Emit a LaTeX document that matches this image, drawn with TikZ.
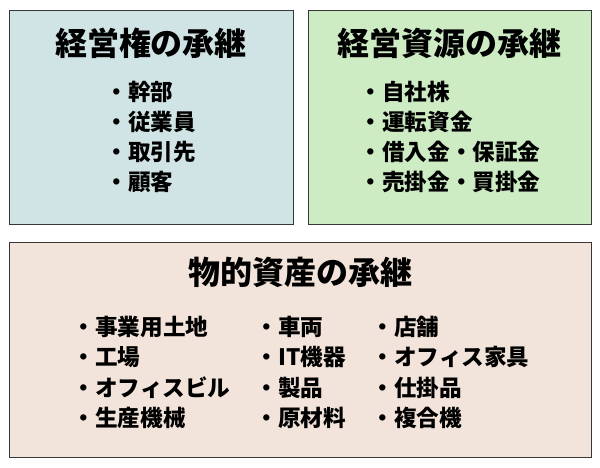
\documentclass[tikz,border=0pt]{standalone}
\usepackage{fontspec}
\setmainfont{Noto Sans CJK JP}
\definecolor{boxblue}{RGB}{209,228,229}
\definecolor{boxgreen}{RGB}{205,236,196}
\definecolor{boxpeach}{RGB}{242,228,218}
\definecolor{edge}{RGB}{55,55,55}
\begin{document}
\begin{tikzpicture}[x=1pt,y=-1pt,
  panel/.style={draw=edge, line width=1.3pt, anchor=north west, inner sep=0pt},
  heading/.style={font=\fontsize{32}{36}\selectfont\bfseries, anchor=base, inner sep=0pt},
  item/.style={font=\fontsize{22.6}{30}\selectfont\bfseries, anchor=base west, inner sep=0pt}]
\useasboundingbox (0,0) rectangle (600,467);
\node[panel, fill=boxblue, minimum width=284pt, minimum height=214pt] (p1) at (8.5,10) {};
\node[panel, fill=boxgreen, minimum width=283.5pt, minimum height=214pt] (p2) at (307.5,10) {};
\node[panel, fill=boxpeach, minimum width=582.5pt, minimum height=215pt] (p3) at (8.5,242) {};
\node[heading] (h1) at (151,55) {経営権の承継};
\node[heading] (h2) at (449,55) {経営資源の承継};
\node[heading] (h3) at (300,284.5) {物的資産の承継};
% top-left list
\node[item] (a1) at (105.5,100.6) {・幹部};
\node[item] (a2) at (105.5,130.6) {・従業員};
\node[item] (a3) at (105.5,160.6) {・取引先};
\node[item] (a4) at (105.5,190.6) {・顧客};
% top-right list
\node[item] (b1) at (359.5,100.6) {・自社株};
\node[item] (b2) at (359.5,130.6) {・運転資金};
\node[item] (b3) at (359.5,160.6) {・借入金・保証金};
\node[item] (b4) at (359.5,190.6) {・売掛金・買掛金};
% bottom lists
\node[item] (c1) at (72.5,335.6) {・事業用土地};
\node[item] (c2) at (72.5,365.8) {・工場};
\node[item] (c3) at (72.5,396.2) {・オフィスビル};
\node[item] (c4) at (72.5,426.6) {・生産機械};
\node[item] (d1) at (255.5,335.6) {・車両};
\node[item] (d2) at (255.5,365.8) {・IT機器};
\node[item] (d3) at (255.5,396.2) {・製品};
\node[item] (d4) at (255.5,426.6) {・原材料};
\node[item] (e1) at (371.5,335.6) {・店舗};
\node[item] (e2) at (371.5,365.8) {・オフィス家具};
\node[item] (e3) at (371.5,396.2) {・仕掛品};
\node[item] (e4) at (371.5,426.6) {・複合機};
\end{tikzpicture}
\end{document}
